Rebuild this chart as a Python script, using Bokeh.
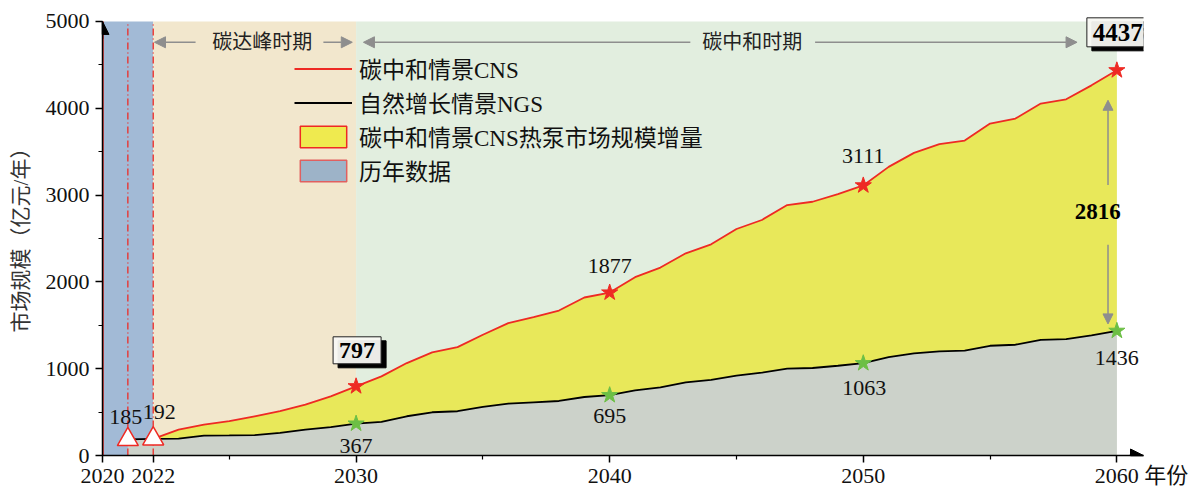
from bokeh.plotting import figure
from bokeh.models import (Range1d, FixedTicker, SingleIntervalTicker,
                          Label, Arrow, NormalHead, Legend, LegendItem, BoxAnnotation)
from bokeh.embed import file_html
from bokeh.resources import INLINE

# ---------------- data ----------------
years = list(range(2022, 2061))
cns = [192, 299, 356, 395, 452, 510, 586, 682, 797, 912, 1065, 1188, 1249, 1391, 1525,
       1594, 1670, 1820, 1877, 2054, 2165, 2329, 2433, 2609, 2713, 2885, 2923, 3011, 3111,
       3325, 3486, 3586, 3628, 3823, 3881, 4054, 4103, 4264, 4437]
ngs = [192, 195, 230, 232, 235, 260, 299, 326, 367, 387, 452, 498, 510, 559, 598,
       613, 628, 674, 695, 751, 785, 843, 870, 920, 954, 1000, 1008, 1034, 1063,
       1134, 1176, 1199, 1207, 1264, 1276, 1333, 1341, 1383, 1436]
hist_years = [2021, 2022]
hist_vals = [185, 192]
key_years = [2030, 2040, 2050, 2060]
gap_label = "2816"
x_ticks = [2020, 2022, 2030, 2040, 2050, 2060]
x_minor = [2025, 2035, 2045, 2055]
hist_span = (2020, 2022)
period_names = ["碳达峰时期", "碳中和时期"]
period_bounds = [(2022, 2030), (2030, 2060)]
legend_labels = ["碳中和情景CNS", "自然增长情景NGS", "碳中和情景CNS热泵市场规模增量", "历年数据"]
y_label = "市场规模（亿元/年）"
x_label = "年份"

# ---------------- style ----------------
FONT = "'Liberation Serif', 'Noto Sans CJK SC'"
RED = "#EE2A24"
GREENSTAR = "#6CBF45"
ARROW_GRAY = "#8E8E8E"
BLUE = "#A2BAD6"
BEIGE = "#F2E7CD"
LGREEN = "#E2EEDF"
YELLOW = "#E8E85A"
GREY = "#CCD2CA"
YMAX = 5000
XMAX = 2061.05

p = figure(width=1193, height=490, x_range=Range1d(2020, XMAX), y_range=Range1d(0, 5080),
           output_backend="svg", toolbar_location=None,
           min_border_left=102, min_border_right=50, min_border_top=14, min_border_bottom=34)
p.outline_line_color = None
p.xgrid.visible = False
p.ygrid.visible = False
p.background_fill_color = "white"

# backgrounds
p.add_layout(BoxAnnotation(left=hist_span[0], right=hist_span[1], top=YMAX, fill_color=BLUE,
                           fill_alpha=1, line_alpha=0, level="underlay"))
p.add_layout(BoxAnnotation(left=period_bounds[0][0], right=period_bounds[0][1], top=YMAX,
                           fill_color=BEIGE, fill_alpha=1, line_alpha=0, level="underlay"))
p.add_layout(BoxAnnotation(left=period_bounds[1][0], right=period_bounds[1][1], top=YMAX,
                           fill_color=LGREEN, fill_alpha=1, line_alpha=0, level="underlay"))

# areas
base_x = hist_years[:1] + years
base_y = hist_vals[:1] + ngs
p.varea(x=base_x, y1=[0] * len(base_x), y2=base_y, fill_color=GREY)
p.varea(x=years, y1=ngs, y2=cns, fill_color=YELLOW)

# vertical marker lines
p.segment(x0=[hist_span[0]], y0=[0], x1=[hist_span[0]], y1=[YMAX], line_color=RED, line_width=2.5)
p.segment(x0=hist_years, y0=[0] * 2, x1=hist_years, y1=[YMAX] * 2, line_color=RED,
          line_width=1.3, line_dash="7 3 1 3")

# lines
ngs_line = p.line(hist_years[:1] + years, hist_vals[:1] + ngs, line_color="black", line_width=1.8)
cns_line = p.line(years, cns, line_color=RED, line_width=1.8)

# dummy renderers for legend patches
yel_dummy = p.quad(left=[1900], right=[1901], bottom=[0], top=[1], fill_color="#EFEA4F",
                   line_color=RED, line_width=1.5)
blue_dummy = p.quad(left=[1900], right=[1901], bottom=[0], top=[1], fill_color="#9DB3C8",
                    line_color="#E06060", line_width=1.5)

# markers
idx = [years.index(k) for k in key_years]
cns_key = [cns[i] for i in idx]
ngs_key = [ngs[i] for i in idx]
p.scatter(key_years, cns_key, marker="star", size=17, fill_color=RED, line_color=RED)
p.scatter(key_years, ngs_key, marker="star", size=17, fill_color=GREENSTAR, line_color=GREENSTAR)
p.scatter(hist_years, hist_vals, marker="triangle", size=21, fill_color="white",
          line_color=RED, line_width=1.5)

def lab(x, y, text, dx=0, dy=0, size="22px", bold=False, color="#111111", **kw):
    l = Label(x=x, y=y, text=str(text), x_offset=dx, y_offset=dy, text_align="center",
              text_baseline="middle", text_font=FONT, text_font_size=size,
              text_font_style="bold" if bold else "normal", text_color=color, **kw)
    p.add_layout(l)
    return l

# value labels
lab(key_years[1], cns_key[1], cns_key[1], 0, 27)
lab(key_years[2], cns_key[2], cns_key[2], 0, 29)
lab(key_years[0], ngs_key[0], ngs_key[0], 0, -22)
lab(key_years[1], ngs_key[1], ngs_key[1], 0, -21)
lab(key_years[2], ngs_key[2], ngs_key[2], 1, -25)
lab(key_years[3], ngs_key[3], ngs_key[3], 0, -27)
lab(hist_years[0], hist_vals[0], hist_vals[0], -2, 22)
lab(hist_years[1], hist_vals[1], hist_vals[1], 6, 27)

# boxed labels with shadow
for kx, kv, dy, fs in [(key_years[0], cns_key[0], 36, "24px"), (key_years[3], cns_key[3], 38, "25px")]:
    lab(kx, kv, kv, 1 + 5, dy - 4, size=fs, bold=True, color="black",
        background_fill_color="black", border_line_color="black", padding=6)
    lab(kx, kv, kv, 1, dy, size=fs, bold=True, color="black",
        background_fill_color="#F8F8F3", background_fill_alpha=0.95,
        border_line_color="#222222", border_line_width=1, padding=6)

# gap label + arrows
mid = (cns[-1] + ngs[-1]) / 2
lab(years[-1], mid, gap_label, -19, -11, size="23px", bold=True, color="black")
ax = years[-1] - 0.35
p.add_layout(Arrow(end=NormalHead(size=10, fill_color=ARROW_GRAY, line_color=ARROW_GRAY),
                   x_start=ax, x_end=ax, y_start=mid + 180, y_end=cns[-1] - 345,
                   line_color=ARROW_GRAY, line_width=1.5))
p.add_layout(Arrow(end=NormalHead(size=10, fill_color=ARROW_GRAY, line_color=ARROW_GRAY),
                   x_start=ax, x_end=ax, y_start=mid - 510, y_end=ngs[-1] + 80,
                   line_color=ARROW_GRAY, line_width=1.5))

# period annotations
py = 4760
period_layout = [(2023.67, 2026.3, 2028.71, 2022.05, 2029.85),
                 (2043.18, 2045.62, 2048.1, 2030.29, 2058.43)]
for name, (l_start, tc, r_start, l_tip, r_tip) in zip(period_names, period_layout):
    for s, e in [(l_start, l_tip), (r_start, r_tip)]:
        p.add_layout(Arrow(end=NormalHead(size=11, fill_color=ARROW_GRAY, line_color=ARROW_GRAY),
                           x_start=s, x_end=e, y_start=py, y_end=py,
                           line_color=ARROW_GRAY, line_width=1.5))
    lab(tc, py, name, 0, 0, size="20px", color="#222222")

# axis arrows
p.add_layout(Arrow(end=NormalHead(size=13, fill_color="black", line_color="black"),
                   x_start=2060.5, x_end=XMAX, y_start=0, y_end=0,
                   line_color="black", line_width=1.5))
p.add_layout(Arrow(end=NormalHead(size=13, fill_color="black", line_color="black"),
                   x_start=2020, x_end=2020, y_start=4800, y_end=YMAX,
                   line_color="black", line_width=1.5))

# axes
p.xaxis.ticker = FixedTicker(ticks=x_ticks, minor_ticks=x_minor)
last = x_ticks[-1]
p.xaxis.major_label_overrides = {last: "\u3000\u3000 " + str(last) + " " + x_label}
p.yaxis.ticker = SingleIntervalTicker(interval=1000, num_minor_ticks=2)
p.yaxis.bounds = (0, YMAX)
for axis in (p.xaxis[0], p.yaxis[0]):
    axis.axis_line_color = "black"
    axis.axis_line_width = 1.5
    axis.major_tick_line_color = "black"
    axis.minor_tick_line_color = "black"
    axis.major_tick_line_width = 1.5
    axis.minor_tick_line_width = 1.2
    axis.major_tick_out = 7
    axis.major_tick_in = 0
    axis.minor_tick_out = 4
    axis.minor_tick_in = 0
    axis.major_label_text_font = FONT
    axis.major_label_text_font_size = "22px"
    axis.major_label_text_color = "#111111"
p.xaxis.major_label_standoff = 0
p.yaxis.major_label_standoff = 6
p.yaxis.axis_label = y_label
p.yaxis.axis_label_text_font = FONT
p.yaxis.axis_label_text_font_size = "21px"
p.yaxis.axis_label_text_font_style = "normal"
p.yaxis.axis_label_text_color = "#333333"
p.yaxis.axis_label_standoff = 10

# legend
legend = Legend(items=[LegendItem(label=legend_labels[0], renderers=[cns_line]),
                       LegendItem(label=legend_labels[1], renderers=[ngs_line]),
                       LegendItem(label=legend_labels[2], renderers=[yel_dummy]),
                       LegendItem(label=legend_labels[3], renderers=[blue_dummy])],
                location=(192, 268), padding=0, margin=0, spacing=-3,
                glyph_width=58, glyph_height=27, label_height=27, label_standoff=7,
                label_text_font=FONT, label_text_font_size="23px", label_text_color="#111111",
                background_fill_alpha=0, border_line_alpha=0)
p.add_layout(legend, "center")

open("out.html", "w").write(file_html(p, INLINE))
